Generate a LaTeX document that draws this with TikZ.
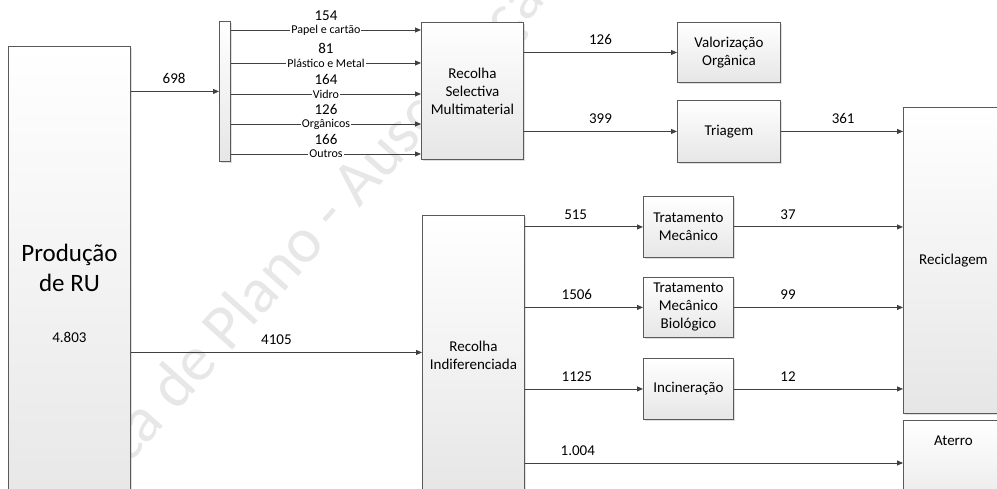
\documentclass[tikz,border=0pt]{standalone}
\usepackage{fontspec}
\setmainfont{Carlito}
\usetikzlibrary{arrows.meta,shadows,calc}
\definecolor{boxc}{HTML}{5A5A5A}
\definecolor{linec}{HTML}{404040}
\definecolor{boxbot}{HTML}{E6E6E6}
\definecolor{wmc}{HTML}{E7E7E7}
\begin{document}
\begin{tikzpicture}[x=1pt,y=-1pt,
  box/.style={draw=boxc, line width=0.9pt, top color=white, bottom color=boxbot,
    drop shadow={shadow xshift=1.8pt,shadow yshift=-1.8pt,opacity=0.25},
    inner sep=0pt, align=center, anchor=north west,
    font=\fontsize{15}{18}\selectfont},
  arr/.style={draw=linec, line width=0.9pt, -{Triangle[length=6pt,width=5pt]}},
  num/.style={above=7pt, inner sep=0pt, font=\fontsize{15}{18}\selectfont},
  tag/.style={fill=white, inner sep=1pt, font=\fontsize{12}{13}\selectfont},
  big/.style={font=\fontsize{25}{30}\selectfont},
]
\useasboundingbox (0,0) rectangle (997,489);
% watermark
\node[rotate=48, anchor=base west, text=wmc, inner sep=0pt,
  font=\fontsize{64}{64}\selectfont] (wm) at (128,466) {ca de Plano - Auscultação Pública};

% boxes
\node[box, minimum width=122pt, minimum height=480pt,
  label={[anchor=base,yshift=-216pt,big]north:Produção},
  label={[anchor=base,yshift=-246pt,big]north:de RU},
  label={[anchor=base,yshift=-297pt,font=\fontsize{15}{18}\selectfont]north:4.803}] (prod) at (8,46) {};
\node[box, minimum width=11pt, minimum height=140pt] (bar) at (219,21) {};
\node[box, minimum width=102pt, minimum height=137pt] (rsm) at (421,22) {Recolha\\Selectiva\\Multimaterial};
\node[box, minimum width=102pt, minimum height=280pt,
  label={[anchor=center,yshift=-140pt,align=center,font=\fontsize{15}{18}\selectfont]north:Recolha\\Indiferenciada}] (ri) at (422,215) {};
\node[box, minimum width=103pt, minimum height=60pt] (vz) at (677,22) {Valorização\\Orgânica};
\node[box, minimum width=103pt, minimum height=62pt] (tri) at (677,100) {Triagem};
\node[box, minimum width=90pt, minimum height=61pt] (tm) at (643,196) {Tratamento\\Mecânico};
\node[box, minimum width=90pt, minimum height=60pt] (tmb) at (643,277) {Tratamento\\Mecânico\\Biológico};
\node[box, minimum width=90pt, minimum height=61pt] (inc) at (643,358) {Incineração};
\node[box, minimum width=100pt, minimum height=306pt] (rec) at (903,107) {Reciclagem};
\node[box, minimum width=100pt, minimum height=100pt,
  label={[anchor=center,yshift=-21pt,font=\fontsize{15}{18}\selectfont]north:Aterro}] (at) at (903,420) {};

% connectors
\draw[arr] (prod.east |- bar.west) -- (bar.west) node[num,pos=0.49] {698};
\foreach \y/\t/\n in {30/Papel e cartão/154, 63/Plástico e Metal/81, 94/Vidro/164, 124/Orgânicos/126, 154/Outros/166}{
  \draw[arr] (bar.east |- 0,\y) -- (rsm.west |- 0,\y)
    node[tag,midway] {\t} node[num,midway,yshift=1.5pt] {\n};
}
\draw[arr] (rsm.east |- vz.west) -- (vz.west) node[num,midway] {126};
\draw[arr] (rsm.east |- tri.west) -- (tri.west) node[num,midway] {399};
\draw[arr] (tri.east) -- (rec.west |- tri.east) node[num,pos=0.51] {361};

\coordinate (riin) at ([yshift=3pt]ri.west);
\draw[arr] (prod.east |- riin) -- (riin) node[num,midway] {4105};

\draw[arr] (ri.east |- tm.west) -- (tm.west) node[num,pos=0.43] {515};
\draw[arr] (ri.east |- tmb.west) -- (tmb.west) node[num,pos=0.44] {1506};
\draw[arr] (ri.east |- inc.west) -- (inc.west) node[num,pos=0.44] {1125};
\coordinate (atin) at ([yshift=-43pt]at.north west);
\draw[arr] (ri.east |- atin) -- (atin) node[num,pos=0.14] {1.004};

\draw[arr] (tm.east) -- (rec.west |- tm.east) node[num,pos=0.32] {37};
\draw[arr] (tmb.east) -- (rec.west |- tmb.east) node[num,pos=0.32] {99};
\draw[arr] (inc.east) -- (rec.west |- inc.east) node[num,pos=0.32] {12};
\end{tikzpicture}
\end{document}
